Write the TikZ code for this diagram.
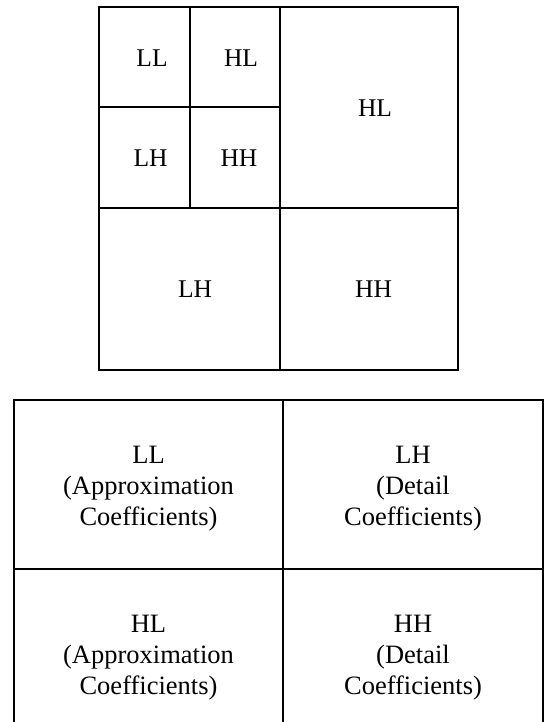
\documentclass[tikz,border=0pt]{standalone}
\usepackage{fontspec}
\setmainfont{Liberation Serif}
\begin{document}
\begin{tikzpicture}[x=1pt,y=-1pt,
  grid/.style={line width=2pt, line cap=rect},
  toplbl/.style={inner sep=0pt, anchor=base, font=\fontsize{25.5}{30}\selectfont},
  botlbl/.style={inner sep=0pt, align=center, anchor=base, font=\fontsize{26.5}{31.2}\selectfont}]
\useasboundingbox (0,0) rectangle (544,722);
\clip (0,0) rectangle (544,722);
\fill[white] (0,0) rectangle (544,722);
% top multi-level grid
\draw[grid] (99,7) rectangle (458,370);
\draw[grid] (280,7) -- (280,370);
\draw[grid] (99,208) -- (458,208);
\draw[grid] (190,7) -- (190,208);
\draw[grid] (99,107) -- (280,107);
\node[toplbl] (ll2) at (152,66.5) {LL};
\node[toplbl] (hl2) at (241,66.5) {HL};
\node[toplbl] (lh2) at (150.5,166.5) {LH};
\node[toplbl] (hh2) at (239,166.5) {HH};
\node[toplbl] (hl1) at (375,116.5) {HL};
\node[toplbl] (lh1) at (195,297) {LH};
\node[toplbl] (hh1) at (373.5,297) {HH};
% bottom table
\draw[grid] (14,400) rectangle (542.5,738);
\draw[grid] (283,400) -- (283,738);
\draw[grid] (14,569) -- (542.5,569);
\node[botlbl] (tll) at (148.5,525.5) {LL\\(Approximation\\Coefficients)};
\node[botlbl] (tlh) at (413,525.5) {LH\\(Detail\\Coefficients)};
\node[botlbl] (thl) at (148.5,694.5) {HL\\(Approximation\\Coefficients)};
\node[botlbl] (thh) at (413,694.5) {HH\\(Detail\\Coefficients)};
\end{tikzpicture}
\end{document}
